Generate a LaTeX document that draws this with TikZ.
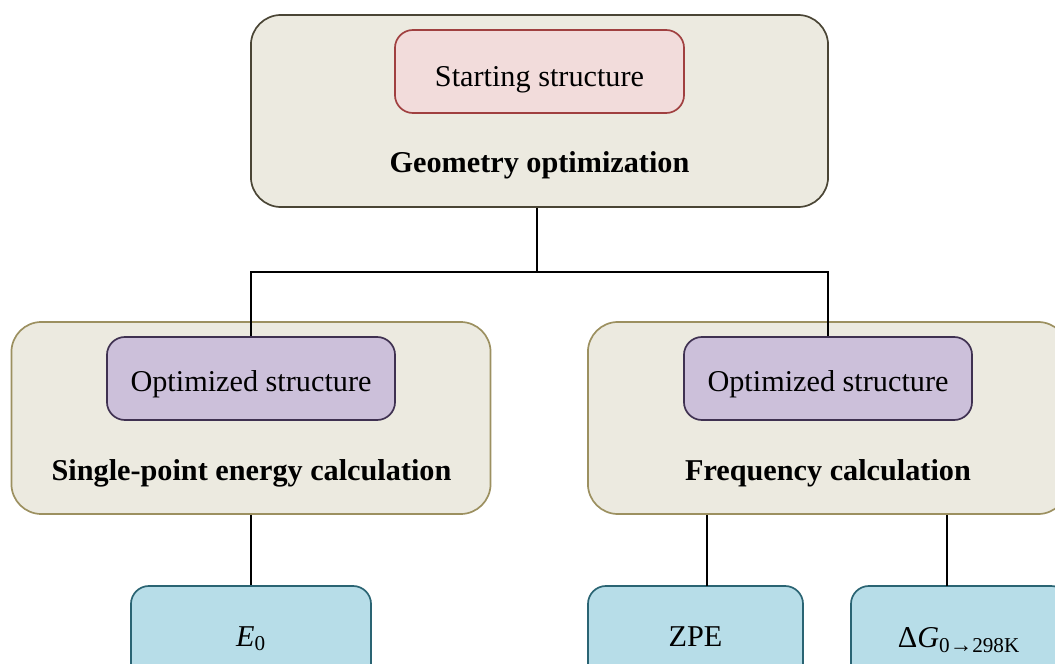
\documentclass[tikz,border=0pt]{standalone}
\usepackage{fontspec}
\setmainfont{Liberation Serif}

\definecolor{stepfill}{HTML}{ECEAE0}
\definecolor{stepline}{HTML}{9C9060}
\definecolor{topline}{HTML}{4A4535}
\definecolor{startfill}{HTML}{F2DCDB}
\definecolor{startline}{HTML}{A04040}
\definecolor{optfill}{HTML}{CCC0DA}
\definecolor{optline}{HTML}{3F3151}
\definecolor{resfill}{HTML}{B7DDE8}
\definecolor{resline}{HTML}{2A6473}

\tikzset{
	stepbox/.style={draw=stepline, fill=stepfill, line width=1.2pt, rounded corners=0.75cm,
		minimum width=11.975cm, minimum height=4.8cm},
	structbox/.style={draw=optline, fill=optfill, line width=1.2pt, rounded corners=0.45cm,
		minimum width=7.2cm, minimum height=2.075cm},
	resbox/.style={draw=resline, fill=resfill, line width=1.2pt, rounded corners=0.45cm,
		minimum height=2.5cm},
	label/.style={font=\fontsize{21.5}{25}\selectfont},
	title/.style={font=\fontsize{21.5}{25}\selectfont\bfseries},
	link/.style={line width=1.5pt, black}
}

\begin{document}
\begin{tikzpicture}[x=0.025cm, y=-0.025cm]
	\useasboundingbox (0,0) rectangle (1055,664);
	\clip (0,0) rectangle (1055,664);

	% geometry optimization
	\node[stepbox, draw=topline, minimum width=14.425cm] (geo) at (539.5,111) {};
	\node[structbox, draw=startline, fill=startfill, minimum width=7.225cm] (start) at (539.5,71.5) {};
	\node[label] at (539.5,80) {Starting structure};
	\node[title] (geolab) at (539.5,165) {Geometry optimization};

	% single-point energy
	\node[stepbox] (sp) at (251,418) {};
	\node[structbox] (spin) at (251,378.5) {};
	\node[label] at (251,384) {Optimized structure};
	\node[title] (splab) at (251.5,473) {Single-point energy calculation};

	% frequency
	\node[stepbox, minimum width=12cm] (freq) at (828,418) {};
	\node[structbox] (freqin) at (828,378.5) {};
	\node[label] at (828,384) {Optimized structure};
	\node[title] (freqlab) at (828,473) {Frequency calculation};

	% results
	\node[resbox, minimum width=6cm] (e0) at (251,636) {};
	\node[label] at (251,639) {\itshape E\textsubscript{\upshape 0}};
	\node[resbox, minimum width=5.375cm] (zpe) at (695.5,636) {};
	\node[label] at (695.5,637) {ZPE};
	\node[resbox, minimum width=5.45cm] (dg) at (960,636) {};
	\node[label] at (959,640) {Δ\textit{G}\textsubscript{0{\fontsize{16}{16}\selectfont→}298K}};

	\coordinate (split) at (537,272);
	\coordinate (zpetop) at (707,586);
	\coordinate (dgtop) at (947,586);

	\draw[link] (split |- geo.south) -- (split);
	\draw[link] (spin.north) |- (split) -| (freqin.north);
	\draw[link] (sp.south) -- (e0.north);
	\draw[link] (zpetop |- freq.south) -- (zpetop);
	\draw[link] (dgtop |- freq.south) -- (dgtop);
\end{tikzpicture}
\end{document}
